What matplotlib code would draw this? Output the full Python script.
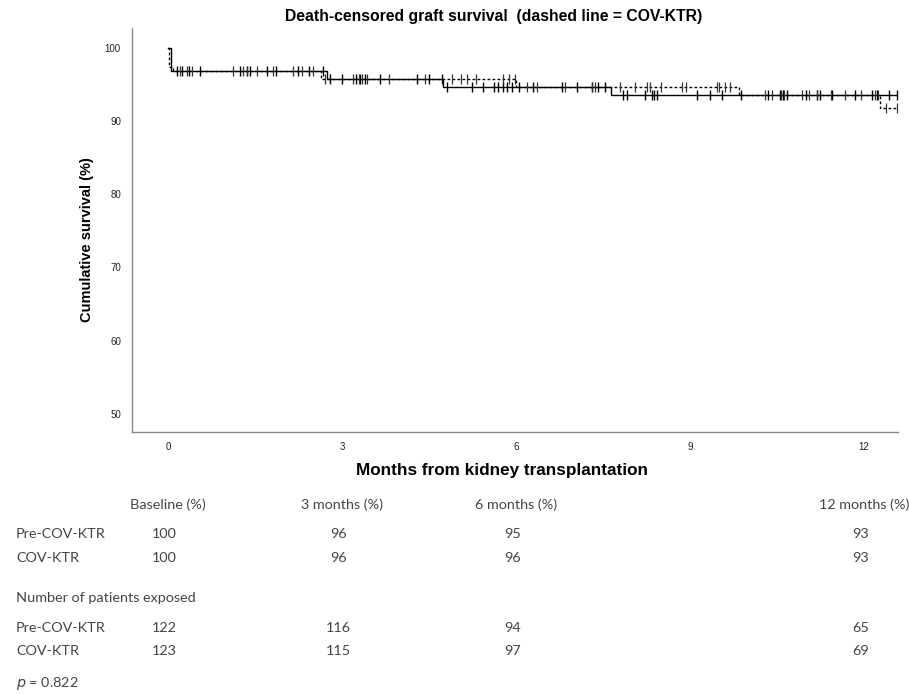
import matplotlib
matplotlib.use("Agg")
import matplotlib.pyplot as plt
import matplotlib.transforms as mtransforms
from matplotlib import font_manager

# Kaplan-Meier steps (event times in months, survival % after the step)
pre_times = [0, 0.05, 2.74, 4.75, 7.64, 12.58]
pre_surv = [100, 96.8, 95.8, 94.7, 93.6, 93.6]
cov_times = [0, 0.01, 0.08, 2.64, 6.0, 9.84, 12.28, 12.58]
cov_surv = [100, 97.4, 96.8, 95.8, 94.7, 93.6, 91.8, 91.8]

# censored observations (months)
pre_cens = [0.15, 0.25, 0.36, 0.55, 1.25, 1.36, 1.41, 1.7, 1.87, 2.24, 2.43, 2.67,
            2.8, 3.01, 3.25, 3.31, 3.39, 3.65, 4.29, 4.51, 4.72,
            4.82, 5.25, 5.43, 5.63, 5.69, 5.77, 5.84, 5.94, 6.06, 6.29, 6.79, 7.06,
            7.32, 7.41, 7.53,
            7.84, 7.91, 8.22, 8.34, 8.39, 8.43, 9.12, 9.34, 9.56, 9.89, 10.34, 10.55,
            10.6, 10.67, 11.01, 11.19, 11.24, 11.46, 11.84, 12.15, 12.22, 12.44, 12.57]
cov_cens = [0.2, 0.32, 0.41, 1.12, 1.29, 1.37, 1.53, 1.81, 2.15, 2.32, 2.5,
            2.7, 3.19, 3.29, 3.34, 3.44, 3.82, 4.43, 4.89, 5.06, 5.15, 5.32, 5.77,
            5.89, 5.98,
            6.19, 6.37, 6.84, 7.31, 7.36, 7.79, 8.05, 8.27, 8.31, 8.51, 8.87, 8.94,
            9.46, 9.51, 9.6, 9.69,
            10.29, 10.41, 10.58, 10.63, 10.94, 11.06, 11.2, 11.44, 11.67, 11.96,
            12.19, 12.24, 12.39, 12.57]

# table under the plot
col_months = [0, 3, 6, 12]
col_headers = ["Baseline (%)", "3 months (%)", "6 months (%)", "12 months (%)"]
groups = ["Pre-COV-KTR", "COV-KTR"]
surv_pre_tab = [100, 96, 95, 93]
surv_cov_tab = [100, 96, 96, 93]
n_pre_tab = [122, 116, 94, 65]
n_cov_tab = [123, 115, 97, 69]
p_value = "0.822"


def surv_at(times, surv, t):
    s = surv[0]
    for ti, si in zip(times, surv):
        if ti <= t:
            s = si
    return s


def pick_font(names):
    avail = set(f.name for f in font_manager.fontManager.ttflist)
    for n in names:
        if n in avail:
            return n
    return "DejaVu Sans"


narrow = pick_font(["Liberation Sans Narrow", "Liberation Sans", "DejaVu Sans"])
light = pick_font(["Lato", "Open Sans", "DejaVu Sans"])

W, H = 909, 694
fig = plt.figure(figsize=(W / 100, H / 100), dpi=100)
ax = fig.add_axes([132 / W, 1 - 432 / H, (898 - 132) / W, (432 - 28) / H])

ax.step(pre_times, pre_surv, where="post", color="black", lw=1.0)
ax.step(cov_times, cov_surv, where="post", color="black", lw=1.0,
        linestyle=(0, (2.0, 1.6)))

ax.plot(pre_cens, [surv_at(pre_times, pre_surv, t) for t in pre_cens], "|",
        color="black", ms=7, mew=1.0)
ax.plot(cov_cens, [surv_at(cov_times, cov_surv, t) for t in cov_cens], "|",
        color="#333333", ms=7, mew=0.9)

ax.set_xlim(-0.62, 12.59)
ax.set_ylim(47.5, 102.7)
ax.set_xticks([0, 3, 6, 9, 12])
ax.set_yticks([50, 60, 70, 80, 90, 100])
ax.tick_params(length=0, labelsize=7, colors="#222222")
ax.tick_params(axis="x", pad=7)
ax.tick_params(axis="y", pad=8)
for lab in ax.get_xticklabels() + ax.get_yticklabels():
    lab.set_family(narrow)
for s in ["top", "right"]:
    ax.spines[s].set_visible(False)
for s in ["left", "bottom"]:
    ax.spines[s].set_color("#8a8a8a")
    ax.spines[s].set_linewidth(1.0)

fig.text(494 / W, 1 - 17 / H, "Death-censored graft survival  (dashed line = COV-KTR)",
         ha="center", va="center", fontsize=11.3, fontweight="bold", family=narrow)
fig.text(502 / W, 1 - 470 / H, "Months from kidney transplantation",
         ha="center", va="center", fontsize=12.3, fontweight="bold", family=narrow)
fig.text(87 / W, 1 - 240 / H, "Cumulative survival (%)", rotation=90,
         ha="center", va="center", fontsize=10.5, fontweight="bold", family=narrow)

# table rows (x follows months, y in figure)
tr = mtransforms.blended_transform_factory(ax.transData, fig.transFigure)
tcol = "#444444"
tkw = dict(fontsize=10.4, family=light, color=tcol, va="center")


def row_y(py):
    return 1 - py / H


for m, h in zip(col_months, col_headers):
    ax.text(m, row_y(505), h, transform=tr, ha="center", **tkw)

rows = [(534, groups[0], surv_pre_tab), (558, groups[1], surv_cov_tab),
        (628, groups[0], n_pre_tab), (651, groups[1], n_cov_tab)]
for py, name, vals in rows:
    fig.text(16 / W, row_y(py), name, ha="left", **tkw)
    for m, v in zip(col_months, vals):
        ax.text(m - 0.06, row_y(py), str(v), transform=tr, ha="center", **tkw)

fig.text(16 / W, row_y(598), "Number of patients exposed", ha="left", **tkw)
fig.text(16 / W, row_y(684), r"$\it{p}$ = " + p_value, ha="left", **tkw)

fig.savefig("out.png", dpi=100)
